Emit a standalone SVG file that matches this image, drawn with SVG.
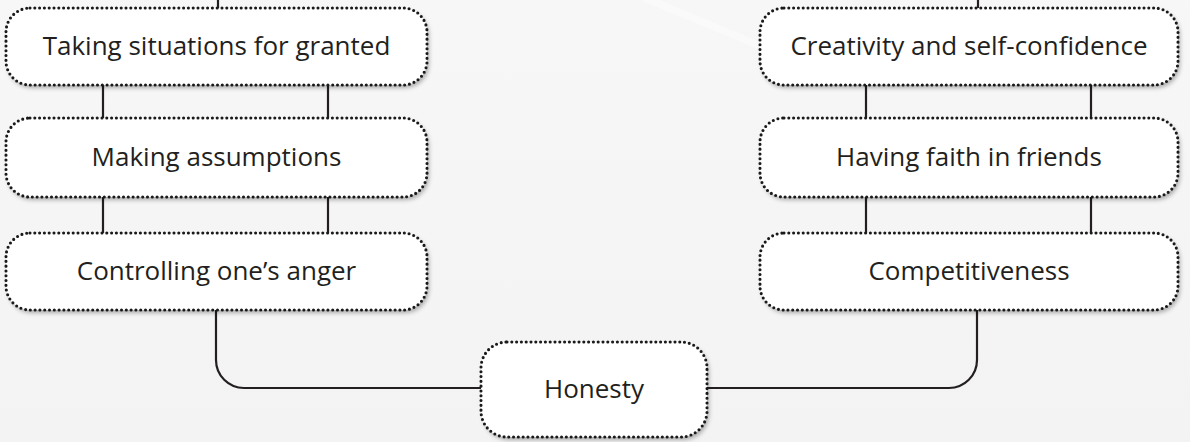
<svg xmlns="http://www.w3.org/2000/svg" width="1190" height="442" viewBox="0 0 1190 442">
<defs>
<linearGradient id="bg" x1="0" y1="0" x2="0" y2="1">
<stop offset="0" stop-color="#f7f7f7"/>
<stop offset="1" stop-color="#f3f3f3"/>
</linearGradient>
<radialGradient id="glow" cx="0.5" cy="0" r="0.7">
<stop offset="0" stop-color="#ffffff"/>
<stop offset="0.8" stop-color="#ffffff" stop-opacity="0.9"/>
<stop offset="1" stop-color="#ffffff" stop-opacity="0"/>
</radialGradient>
<filter id="sh" x="-10%" y="-20%" width="120%" height="150%">
<feDropShadow dx="2" dy="3" stdDeviation="2.2" flood-color="#000" flood-opacity="0.3"/>
</filter>
</defs>
<style>
.box{fill:#fff;filter:url(#sh)}
.dot{fill:none;stroke:#1a1a1a;stroke-width:3.1;stroke-linecap:round;stroke-dasharray:0 4.8}
.lbl{font-family:"Open Sans","Liberation Sans",sans-serif;font-size:26px;fill:#231f20;text-anchor:middle}
.con{fill:none;stroke:#231f20;stroke-width:2.2}
</style>
<rect width="1190" height="442" fill="url(#bg)"/>
<ellipse cx="560" cy="-30" rx="180" ry="75" fill="url(#glow)"/>
<path d="M640 0 L760 50 L770 46 L660 0 Z" fill="#ffffff" opacity="0.35"/>

<g id="connectors">
<path class="con" d="M218 0 V8"/>
<path class="con" d="M978 0 V8"/>
<path class="con" d="M103 85 V118 M328 85 V118"/>
<path class="con" d="M103 197 V233 M328 197 V233"/>
<path class="con" d="M866 85 V118 M1091 85 V118"/>
<path class="con" d="M866 197 V233 M1091 197 V233"/>
<path class="con" d="M216 310 V360 A28 28 0 0 0 244 388 H481"/>
<path class="con" d="M707 388 H949 A28 28 0 0 0 977 360 V310"/>
</g>

<g id="n-taking">
<rect class="box" x="6" y="8" width="421" height="77" rx="24"/>
<rect class="dot" x="6" y="8" width="421" height="77" rx="24"/>
<text class="lbl" x="216.5" y="55">Taking situations for granted</text>
</g>
<g id="n-making">
<rect class="box" x="6" y="118" width="421" height="79" rx="24"/>
<rect class="dot" x="6" y="118" width="421" height="79" rx="24"/>
<text class="lbl" x="216.5" y="166">Making assumptions</text>
</g>
<g id="n-controlling">
<rect class="box" x="6" y="233" width="421" height="77" rx="24"/>
<rect class="dot" x="6" y="233" width="421" height="77" rx="24"/>
<text class="lbl" x="216.5" y="280">Controlling one’s anger</text>
</g>
<g id="n-creativity">
<rect class="box" x="760" y="8" width="418" height="77" rx="24"/>
<rect class="dot" x="760" y="8" width="418" height="77" rx="24"/>
<text class="lbl" x="969" y="55">Creativity and self-confidence</text>
</g>
<g id="n-faith">
<rect class="box" x="760" y="118" width="418" height="79" rx="24"/>
<rect class="dot" x="760" y="118" width="418" height="79" rx="24"/>
<text class="lbl" x="969" y="166">Having faith in friends</text>
</g>
<g id="n-competitiveness">
<rect class="box" x="760" y="233" width="418" height="77" rx="24"/>
<rect class="dot" x="760" y="233" width="418" height="77" rx="24"/>
<text class="lbl" x="969" y="280">Competitiveness</text>
</g>
<g id="n-honesty">
<rect class="box" x="481" y="342" width="226" height="95" rx="26"/>
<rect class="dot" x="481" y="342" width="226" height="95" rx="26"/>
<text class="lbl" x="594" y="398">Honesty</text>
</g>
</svg>
